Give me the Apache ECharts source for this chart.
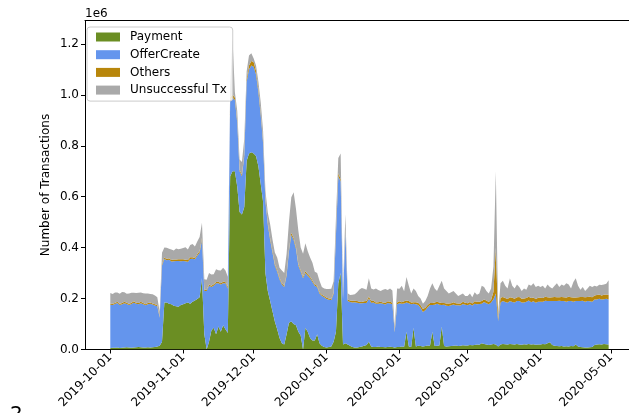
<!DOCTYPE html>
<html><head><meta charset="utf-8">
<script src="https://cdn.jsdelivr.net/npm/echarts@6/dist/echarts.min.js"></script>
<style>html,body{margin:0;padding:0;background:#fff}#c{width:629px;height:413px}</style>
</head><body><div id="c"></div>
<script>
// one value per day, starting 2019-10-01 (values in thousands of transactions)
const startDate = [2019, 9, 1];
const seriesNames = ['Payment', 'OfferCreate', 'Others', 'Unsuccessful Tx'];
const xTickLabels = ['2019-10-01','2019-11-01','2019-12-01','2020-01-01','2020-02-01','2020-03-01','2020-04-01','2020-05-01'];
const yTickValues = [0, 200, 400, 600, 800, 1000, 1200];

const payment = [
 6,7,7,8,6,7,8,9,8,7, 8,9,10,9,8,8,9,8,9,10, 12,15,30,185,185,180,178,172,170,168, 175,
 178,182,185,180,188,192,198,205,280,60, 0,30,75,85,60,90,70,95,80,65, 680,700,700,640,540,530,560,740,770,775,
 770,760,720,650,580,300,230,190,150,110, 80,45,25,20,60,105,110,100,95,70, 55,0,85,70,45,35,35,60,25,15, 10,
 8,10,12,30,70,260,300,20,25,20, 15,10,8,8,10,12,15,18,30,12, 10,10,12,10,10,9,10,11,10,8, 10,
 10,12,11,70,12,10,85,12,15,14, 12,14,16,15,70,14,15,16,90,14, 12,13,14,15,16,14,15,17,16,
 16,18,17,18,20,19,25,22,20,18, 20,22,20,12,20,22,21,20,22,21, 20,22,20,19,21,20,22,20,21,19, 20,
 20,22,21,25,28,18,15,14,13,14, 12,13,12,14,13,20,12,10,9,8, 8,9,10,18,20,21,20,22,21,20
];
const offerCreate = [
 170,168,172,175,169,171,174,170,167,172, 176,171,168,173,170,166,169,172,168,163, 158,110,300,170,165,172,168,175,178,180, 172,
 170,165,160,175,168,162,170,175,150,170, 230,220,170,165,200,170,185,165,180,175, 300,290,280,250,160,150,200,310,330,340,
 340,320,290,270,230,280,260,240,230,220, 225,230,230,225,230,280,340,330,300,260, 250,280,215,220,235,230,215,185,195,195, 195,
 190,185,182,188,380,420,360,175,440,170, 172,175,178,176,172,170,168,165,170,172, 175,170,168,172,170,168,173,170,168,60, 168,
 172,168,170,115,170,168,95,166,160,150, 135,140,150,160,105,162,165,160,85,162, 160,158,160,162,158,160,158,162,160,
 158,160,156,162,158,160,155,165,162,160, 165,175,200,100,165,168,166,164,168,166, 165,168,170,166,164,168,170,166,168,165, 168,
 168,166,170,165,162,172,175,176,178,176, 178,175,178,176,175,170,178,180,182,180, 182,180,178,178,176,178,176,175,178,176
];
const others = [
 4,5,4,5,4,5,6,5,4,5, 5,4,5,6,5,4,5,5,4,5, 5,3,5,6,5,6,5,6,5,6, 7,
 6,5,6,7,6,5,6,7,8,6, 4,5,5,6,5,6,5,6,5,6, 10,12,10,8,6,6,8,12,15,18,
 18,15,12,10,8,8,8,7,7,6, 6,6,5,5,6,7,8,8,7,6, 6,6,7,6,6,6,5,5,5,5, 5,
 5,5,5,5,8,12,10,5,6,6, 5,6,5,6,6,5,6,7,8,6, 6,5,6,6,5,6,6,7,6,3, 7,
 7,6,8,7,8,7,6,8,9,10, 12,10,9,8,8,9,8,9,8,7, 9,10,8,9,8,7,8,9,8,
 8,9,8,9,10,9,10,9,10,9, 10,30,180,8,18,16,15,14,15,16, 14,15,16,14,15,14,15,16,15,14, 15,
 15,14,16,15,14,15,16,15,14,16, 15,16,17,15,16,14,15,16,15,17, 16,18,17,16,18,17,16,18,17,18
];
const unsuccessful = [
 42,38,41,36,40,43,37,35,41,39, 34,38,40,36,38,42,37,33,36,34, 30,20,45,40,45,38,42,36,44,40, 42,
 45,50,42,48,52,45,50,55,60,40, 40,45,45,40,50,45,50,55,45,40, 40,220,20,40,40,50,60,30,40,30,
 15,20,30,40,40,35,40,55,45,45, 50,40,50,50,80,110,140,180,150,130, 90,90,110,90,75,70,50,50,45,30, 30,
 35,38,40,45,60,60,100,35,60,25, 22,24,26,35,48,55,50,45,72,50, 45,55,48,42,50,55,45,52,48,20, 55,
 50,64,40,93,60,35,54,44,26,26, 21,26,35,57,77,55,42,65,87,57, 49,39,43,44,38,29,34,32,26,
 28,33,24,36,27,32,60,49,38,33, 45,100,300,20,57,64,48,42,75,47, 41,50,39,31,40,33,48,48,56,47, 47,
 42,48,33,50,41,35,44,55,40,49, 45,56,48,35,61,76,45,29,39,25, 34,43,40,38,33,38,41,40,42,58
];
const colors = ['#6b8e23', '#6495ed', '#b8860b', '#a9a9a9'];

const DAY = 86400000;
const times = payment.map((_, i) => new Date(startDate[0], startDate[1], startDate[2] + i).getTime());
const t0 = times[0];
const xMin = t0 - 10.76 * DAY;
const xMax = t0 + 220.66 * DAY;
const xTickTimes = xTickLabels.map(s => { const p = s.split('-').map(Number); return new Date(p[0], p[1]-1, p[2]).getTime(); });

const values = [payment, offerCreate, others, unsuccessful];
// value first, time second, so that the stack is computed on the value dimension
const series = seriesNames.map((name, k) => ({
  name, type: 'line', stack: 'tx',
  data: values[k].map((v, i) => [v, times[i]]),
  encode: { x: 1, y: 0 },
  symbol: 'none', showSymbol: false, smooth: false, sampling: null,
  lineStyle: { width: 0, color: colors[k] },
  itemStyle: { color: colors[k] },
  areaStyle: { color: colors[k], opacity: 1 },
  emphasis: { disabled: true },
  xAxisIndex: 0, yAxisIndex: 0
}));

const FONT = 'DejaVu Sans';
const chart = echarts.init(document.getElementById('c'));
chart.setOption({
  animation: false,
  grid: { left: 85, right: 0, top: 20.5, bottom: 63.5 },
  legend: {
    orient: 'vertical', left: 87, top: 27, padding: [3, 6, 4, 9], itemGap: 3.7,
    itemWidth: 24, itemHeight: 9, icon: 'rect',
    borderColor: '#cccccc', borderWidth: 1, borderRadius: 3, backgroundColor: 'rgba(255,255,255,0.8)',
    textStyle: { fontSize: 12, color: '#000', fontFamily: FONT, lineHeight: 14, padding: [0, 0, 0, 5] },
    data: seriesNames, selectedMode: false
  },
  xAxis: [{
    type: 'value', min: xMin, max: xMax, scale: true,
    axisLine: { show: true, onZero: false, lineStyle: { color: '#000', width: 1 } },
    axisTick: { show: true, length: 4, lineStyle: { color: '#000' }, customValues: xTickTimes },
    axisLabel: { rotate: 45, fontSize: 12, color: '#000', fontFamily: FONT, margin: 6,
      customValues: xTickTimes, showMinLabel: true, showMaxLabel: true,
      formatter: v => { const i = xTickTimes.indexOf(v); return i >= 0 ? xTickLabels[i] : ''; } },
    splitLine: { show: false }
  }, {
    type: 'value', position: 'top', min: xMin, max: xMax, scale: true,
    axisLine: { show: true, onZero: false, lineStyle: { color: '#000', width: 1 } },
    axisTick: { show: false }, axisLabel: { show: false }, splitLine: { show: false }
  }],
  yAxis: {
    type: 'value', min: 0, max: 1292,
    axisLine: { show: true, lineStyle: { color: '#000', width: 1 } },
    axisTick: { show: true, length: 4, lineStyle: { color: '#000' }, customValues: yTickValues },
    axisLabel: { fontSize: 12, color: '#000', fontFamily: FONT, margin: 6, customValues: yTickValues,
      formatter: v => (v / 1000).toFixed(1) },
    splitLine: { show: false }
  },
  graphic: [
    { type: 'text', x: 85, y: 8, style: { text: '1e6', fontSize: 12, fontFamily: FONT, fill: '#000' } },
    { type: 'text', x: 46, y: 185, rotation: Math.PI / 2,
      style: { text: 'Number of Transactions', fontSize: 12, fontFamily: FONT, fill: '#000', align: 'center', verticalAlign: 'middle' } },
    { type: 'text', x: 10, y: 405, style: { text: '2', fontSize: 20, fontFamily: FONT, fill: '#000' } }
  ],
  series
});
</script>
</body></html>
